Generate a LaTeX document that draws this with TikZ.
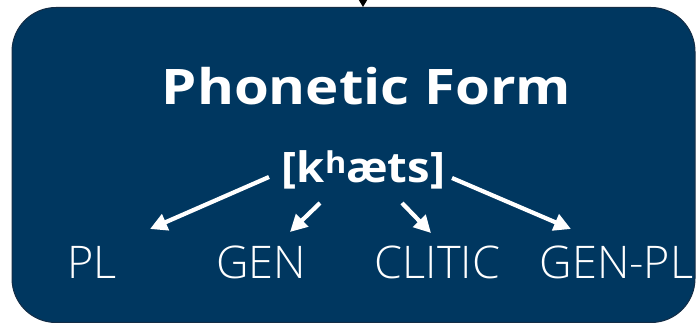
\documentclass[tikz,border=0pt]{standalone}
\usepackage{fontspec}
\setmainfont{Open Sans}
\newfontfamily\headfont{Open Sans}[FakeStretch=1.15]
\newfontfamily\ipafont{Open Sans}[FakeStretch=1.08]
\IfFontExistsTF{Open Sans Light}
  {\newfontfamily\glossfont{Open Sans Light}}
  {\newfontfamily\glossfont{Open Sans}}
\usetikzlibrary{arrows.meta}
\definecolor{boxblue}{RGB}{0,55,96}
\definecolor{boxedge}{RGB}{20,45,70}
\begin{document}
\begin{tikzpicture}[x=1pt,y=-1pt,
  panel/.style={draw=boxedge, line width=1pt, fill=boxblue, rounded corners=44pt,
    minimum width=683pt, minimum height=315pt, inner sep=0pt},
  title/.style={text=white, font=\headfont\fontsize{49}{51}\selectfont\bfseries, anchor=base, inner sep=0pt},
  ipa/.style={text=white, font=\ipafont\fontsize{42}{44}\selectfont\bfseries, anchor=base, inner sep=0pt},
  gloss/.style={text=white, font=\glossfont\fontsize{45}{47}\selectfont, anchor=base, inner sep=0pt},
  feed/.style={draw=black, line width=1.2pt, -{Triangle[length=7pt,width=8pt]}},
  split/.style={draw=white, line width=4.2pt, -{Triangle[length=17pt,width=17pt]}}]
\useasboundingbox (0,0) rectangle (697,323);

% the phonetic-form panel
\node[panel] (pfbox) at (353.5,165) {};

% incoming arrow from above
\coordinate (src) at (363,-3);
\draw[feed] (src) -- (src |- pfbox.north);

% headings
\node[title] (pf) at (366.5,105) {Phonetic Form};
\node[ipa] (form) at (363.5,183) {[k\raisebox{9pt}{\fontsize{30}{30}\selectfont h}æts]};

% morphological readings
\node[gloss] (pl)     at (92,279)    {PL};
\node[gloss] (gen)    at (261,279)   {GEN};
\node[gloss] (clitic) at (437.5,279) {CLITIC};
\node[gloss] (genpl)  at (616.5,279) {GEN-PL};

% arrow end points
\coordinate (a1s) at (269,177);  \coordinate (a1e) at (150,229);
\coordinate (a2s) at (320,203);  \coordinate (a2e) at (290,232);
\coordinate (a3s) at (402,203);  \coordinate (a3e) at (431,233);
\coordinate (a4s) at (452,178);  \coordinate (a4e) at (571,229);

\draw[split] (a1s) -- (a1e);
\draw[split] (a2s) -- (a2e);
\draw[split] (a3s) -- (a3e);
\draw[split] (a4s) -- (a4e);
\end{tikzpicture}
\end{document}
